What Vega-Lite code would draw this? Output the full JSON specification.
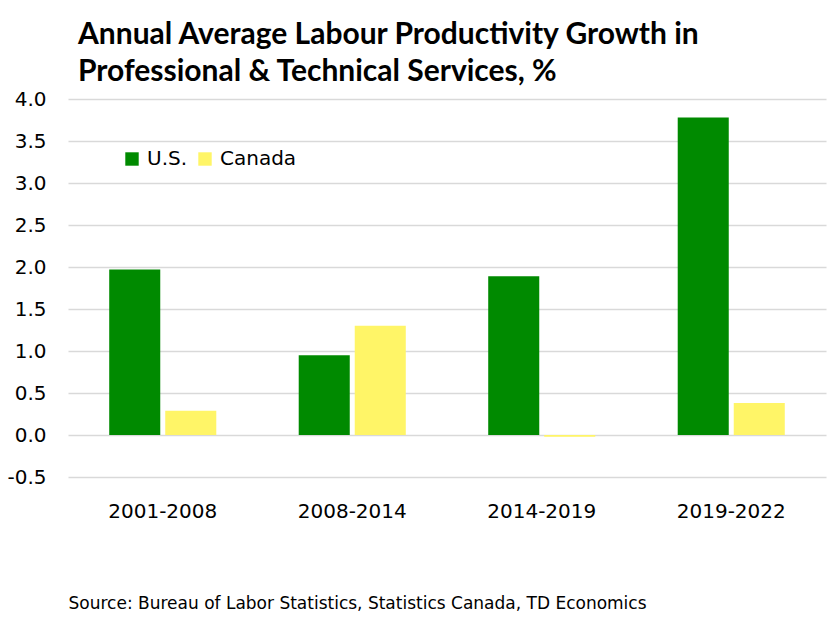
{
  "$schema": "https://vega.github.io/schema/vega-lite/v6.json",
  "width": 758,
  "height": 378,
  "autosize": {"type": "none"},
  "padding": {"left": 68, "top": 99, "right": 1, "bottom": 140},
  "background": "white",
  "title": {
    "text": ["Annual Average Labour Productivity Growth in", "Professional & Technical Services, %"],
    "anchor": "start",
    "frame": "group",
    "dx": 10,
    "offset": 2,
    "font": "Lato",
    "fontSize": 30,
    "fontWeight": "bold",
    "lineHeight": 37,
    "color": "#000000"
  },
  "data": {
    "values": [
      {"period": "2001-2008", "country": "U.S.", "growth": 1.97},
      {"period": "2001-2008", "country": "Canada", "growth": 0.29},
      {"period": "2008-2014", "country": "U.S.", "growth": 0.95},
      {"period": "2008-2014", "country": "Canada", "growth": 1.30},
      {"period": "2014-2019", "country": "U.S.", "growth": 1.89},
      {"period": "2014-2019", "country": "Canada", "growth": -0.02},
      {"period": "2019-2022", "country": "U.S.", "growth": 3.78},
      {"period": "2019-2022", "country": "Canada", "growth": 0.38}
    ]
  },
  "mark": {"type": "bar"},
  "encoding": {
    "x": {
      "field": "period",
      "type": "nominal",
      "sort": null,
      "scale": {"paddingInner": 0.435, "paddingOuter": 0.2175},
      "axis": {
        "title": "Source: Bureau of Labor Statistics, Statistics Canada, TD Economics",
        "titleX": 0,
        "titleY": 131,
        "titleAlign": "left",
        "titleAnchor": "start",
        "titleBaseline": "alphabetic",
        "titleFont": "DejaVu Sans",
        "titleFontSize": 17,
        "titleFontWeight": "normal",
        "titleColor": "#000000",
        "labelAngle": 0,
        "labelFont": "DejaVu Sans",
        "labelFontSize": 20,
        "labelColor": "#000000",
        "labelPadding": 24,
        "ticks": false,
        "domain": false,
        "grid": false
      }
    },
    "xOffset": {
      "field": "country",
      "type": "nominal",
      "sort": ["U.S.", "Canada"],
      "scale": {"paddingInner": 0.089, "paddingOuter": 0}
    },
    "y": {
      "field": "growth",
      "type": "quantitative",
      "scale": {"domain": [-0.5, 4.0], "nice": false, "zero": false},
      "axis": {
        "title": null,
        "values": [-0.5, 0, 0.5, 1, 1.5, 2, 2.5, 3, 3.5, 4],
        "labelExpr": "replace(format(datum.value, '.1f'), '\u2212', '-')",
        "labelFont": "DejaVu Sans",
        "labelFontSize": 20,
        "labelColor": "#000000",
        "labelPadding": 22,
        "ticks": false,
        "domain": false,
        "grid": true,
        "gridColor": "#d9d9d9",
        "gridWidth": 1.5
      }
    },
    "color": {
      "field": "country",
      "type": "nominal",
      "sort": ["U.S.", "Canada"],
      "scale": {"domain": ["U.S.", "Canada"], "range": ["#008A00", "#FFF567"]},
      "legend": {
        "title": null,
        "orient": "none",
        "legendX": 54,
        "legendY": 50,
        "direction": "horizontal",
        "symbolType": "square",
        "symbolSize": 180,
        "symbolStrokeWidth": 0,
        "labelFont": "DejaVu Sans",
        "labelFontSize": 20,
        "labelColor": "#000000",
        "labelOffset": 5,
        "columnPadding": 7
      }
    }
  },
  "config": {"view": {"stroke": null}}
}
